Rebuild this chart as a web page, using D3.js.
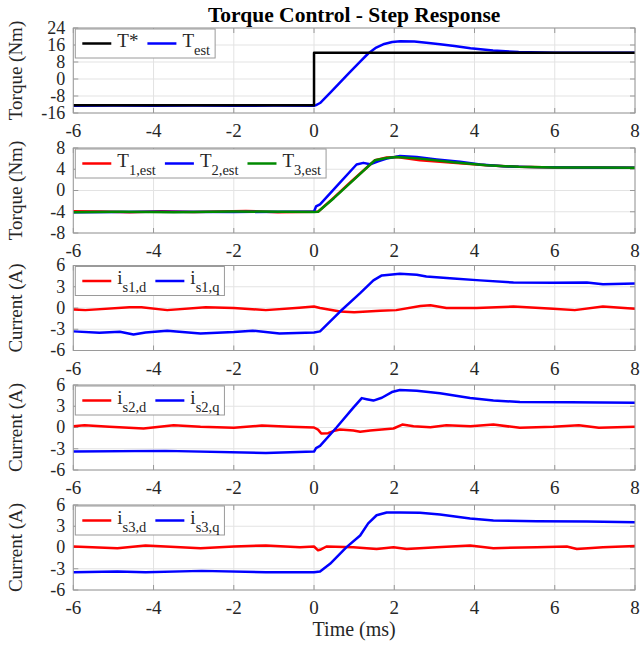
<!DOCTYPE html>
<html>
<head>
<meta charset="utf-8">
<script src="https://cdn.jsdelivr.net/npm/d3@7/dist/d3.min.js"></script>
<style>
  html, body { margin: 0; padding: 0; background: #fff; }
  svg { display: block; font-family: "Liberation Serif", "Times New Roman", serif; }
</style>
</head>
<body>
<svg id="chart" width="640" height="645"></svg>
<script>
// ---- data (time in ms) ----
const xTicks = [-6, -4, -2, 0, 2, 4, 6, 8];

// panel 1 : torque reference and estimate
const tStarTime = [-6, 0, 0, 8];
const tStarVal = [-12.3, -12.3, 12.3, 12.3];
const tEstTime = [-6, -5, -4, -3, -2, -1, 0, 0.05, 0.15, 0.4, 0.65, 0.9, 1.15, 1.35, 1.55, 1.75, 1.95, 2.15, 2.5, 2.8, 3.14, 3.5, 3.9, 4.46, 5.1, 6, 7, 8];
const tEstVal = [-12.6, -12.5, -12.6, -12.5, -12.6, -12.5, -12.6, -12.3, -11.3, -6.5, -1.6, 3.4, 8.2, 12.0, 14.8, 16.5, 17.4, 17.8, 17.6, 17.1, 16.4, 15.5, 14.5, 13.4, 12.7, 12.4, 12.3, 12.3];

// panel 2 : per-module torque estimates
const t1Time = [-6, -5.3, -4.6, -3.8, -3, -1.7, -0.9, 0, 0.1, 0.5, 0.9, 1.4, 1.52, 1.81, 2.06, 2.64, 3.47, 4.3, 5.1, 6, 7, 8];
const t1Val = [-3.9, -3.95, -4.1, -3.9, -4.05, -3.85, -4.1, -4.0, -4.0, -1.3, 1.5, 4.9, 5.7, 6.2, 6.3, 5.7, 5.2, 4.75, 4.45, 4.35, 4.35, 4.3];
const t2Time = [-6, -4, -2, 0, 0.05, 0.15, 0.6, 1.06, 1.23, 1.4, 1.6, 1.81, 2.14, 2.56, 3.06, 3.64, 4.14, 4.72, 5.5, 6.5, 8];
const t2Val = [-4.1, -4.0, -4.05, -3.95, -3.0, -2.6, 1.1, 4.9, 5.2, 4.95, 5.5, 6.0, 6.5, 6.3, 5.85, 5.4, 4.9, 4.55, 4.4, 4.35, 4.3];
const t3Time = [-6, -4.8, -3.5, -2, 0, 0.1, 0.5, 0.9, 1.4, 1.52, 1.81, 2.06, 2.64, 3.47, 4.3, 5.1, 6, 7, 8];
const t3Val = [-4.1, -4.0, -4.1, -3.95, -4.05, -4.0, -1.4, 1.4, 4.9, 5.7, 6.1, 6.3, 6.0, 5.3, 4.75, 4.45, 4.35, 4.35, 4.3];

// panel 3 : module 1 d/q currents
const id1Time = [-6, -5.7, -4.6, -4.3, -3.66, -2.7, -2, -1.2, -0.37, 0, 0.15, 0.65, 1.0, 1.65, 2.05, 2.65, 2.9, 3.3, 4.05, 4.97, 5.96, 6.5, 7.2, 8];
const id1Val = [-0.2, -0.3, 0.1, 0.1, -0.3, 0.1, 0.0, -0.3, 0.05, 0.2, 0.0, -0.5, -0.6, -0.4, -0.3, 0.28, 0.4, 0.0, 0.0, 0.2, -0.1, -0.3, 0.2, -0.1];
const iq1Time = [-6, -5.35, -4.84, -4.5, -4.2, -3.66, -2.83, -2, -1.53, -0.86, 0, 0.15, 0.65, 1.15, 1.48, 1.69, 2.14, 2.56, 2.8, 3.47, 4.14, 4.97, 5.96, 6.8, 7.2, 8];
const iq1Val = [-3.3, -3.5, -3.35, -3.75, -3.45, -3.2, -3.6, -3.4, -3.2, -3.6, -3.45, -3.3, -0.5, 2.1, 3.9, 4.6, 4.85, 4.7, 4.45, 4.15, 3.9, 3.6, 3.55, 3.6, 3.35, 3.45];

// panel 4 : module 2 d/q currents
const id2Time = [-6, -5.72, -5.1, -4.25, -3.5, -2.83, -2, -1.3, -0.6, 0, 0.1, 0.18, 0.35, 0.48, 0.65, 0.98, 1.15, 1.4, 1.98, 2.2, 2.48, 2.9, 3.3, 3.9, 4.47, 5.13, 5.96, 6.6, 7.1, 8];
const id2Val = [0.18, 0.32, 0.1, -0.14, 0.32, 0.1, -0.05, 0.28, 0.1, 0.0, -0.3, -0.85, -0.8, -0.5, -0.28, -0.42, -0.6, -0.42, -0.14, 0.42, 0.18, 0.04, 0.32, 0.18, 0.42, -0.05, 0.1, 0.32, -0.05, 0.1];
const iq2Time = [-6, -3.7, -1.2, 0, 0.05, 0.15, 0.56, 0.98, 1.19, 1.31, 1.48, 1.69, 1.94, 2.14, 2.56, 3.14, 3.89, 4.47, 5.13, 6.38, 8];
const iq2Val = [-3.4, -3.3, -3.6, -3.4, -2.9, -2.6, 0.0, 2.8, 4.15, 4.0, 3.8, 4.2, 5.0, 5.3, 5.2, 4.85, 4.15, 3.8, 3.6, 3.55, 3.5];

// panel 5 : module 3 d/q currents
const id3Time = [-6, -4.9, -4.2, -2.83, -2, -1.2, -0.35, 0, 0.1, 0.15, 0.31, 0.98, 1.56, 1.98, 2.31, 3.06, 3.89, 4.47, 5.55, 6.3, 6.55, 7.2, 8];
const id3Val = [0.14, -0.1, 0.29, -0.1, 0.14, 0.29, 0.05, 0.14, -0.4, -0.33, 0.14, 0.05, -0.2, 0.05, -0.2, 0.05, 0.29, -0.1, 0.05, 0.14, -0.2, 0.05, 0.2];
const iq3Time = [-6, -4.9, -4.2, -2.8, -1.2, 0, 0.15, 0.4, 0.81, 1.15, 1.35, 1.56, 1.81, 2.14, 2.64, 3.14, 3.89, 4.47, 5.55, 6.8, 8];
const iq3Val = [-3.5, -3.4, -3.5, -3.3, -3.5, -3.5, -3.4, -2.3, 0.05, 1.7, 3.4, 4.55, 4.95, 4.95, 4.9, 4.65, 4.1, 3.8, 3.7, 3.68, 3.55];

const torqueTicks = [-16, -8, 0, 8, 16, 24];
const modTorqueTicks = [-8, -4, 0, 4, 8];
const currentTicks = [-6, -3, 0, 3, 6];

// ---- layout ----
const svg = d3.select('#chart');
const left = 73.3, right = 635;
const panelH = 85;
const tops = [28, 148, 265.5, 385, 505];
const RED = '#ff0000', BLUE = '#0000ff', GREEN = '#008a00', BLACK = '#000000';

const zip = (ts, vs) => ts.map((t, i) => [t, vs[i]]);

const panels = [
  { ticks: torqueTicks, label: 'Torque (Nm)', series: [
      { pts: zip(tStarTime, tStarVal), color: BLACK, main: 'T*', sub: '' },
      { pts: zip(tEstTime, tEstVal), color: BLUE, main: 'T', sub: 'est' }],
    drawOrder: [1, 0] },
  { ticks: modTorqueTicks, label: 'Torque (Nm)', series: [
      { pts: zip(t1Time, t1Val), color: RED, main: 'T', sub: '1,est' },
      { pts: zip(t2Time, t2Val), color: BLUE, main: 'T', sub: '2,est' },
      { pts: zip(t3Time, t3Val), color: GREEN, main: 'T', sub: '3,est' }],
    drawOrder: [0, 1, 2] },
  { ticks: currentTicks, label: 'Current (A)', series: [
      { pts: zip(id1Time, id1Val), color: RED, main: 'i', sub: 's1,d' },
      { pts: zip(iq1Time, iq1Val), color: BLUE, main: 'i', sub: 's1,q' }],
    drawOrder: [0, 1] },
  { ticks: currentTicks, label: 'Current (A)', series: [
      { pts: zip(id2Time, id2Val), color: RED, main: 'i', sub: 's2,d' },
      { pts: zip(iq2Time, iq2Val), color: BLUE, main: 'i', sub: 's2,q' }],
    drawOrder: [0, 1] },
  { ticks: currentTicks, label: 'Current (A)', series: [
      { pts: zip(id3Time, id3Val), color: RED, main: 'i', sub: 's3,d' },
      { pts: zip(iq3Time, iq3Val), color: BLUE, main: 'i', sub: 's3,q' }],
    drawOrder: [0, 1] }
];

const x = d3.scaleLinear().domain([-6, 8]).range([left, right]);

// title
svg.append('text')
  .attr('x', (left + right) / 2).attr('y', 22)
  .attr('text-anchor', 'middle')
  .style('font-size', '21.5px').style('font-weight', 'bold').attr('fill', '#000')
  .text('Torque Control - Step Response');

panels.forEach((p, k) => {
  const top = tops[k], bottom = top + panelH;
  const y = d3.scaleLinear().domain(d3.extent(p.ticks)).range([bottom, top]);
  const g = svg.append('g');

  // grid
  g.selectAll('.gx').data(xTicks).enter().append('line')
    .attr('x1', d => x(d)).attr('x2', d => x(d)).attr('y1', top).attr('y2', bottom)
    .attr('stroke', '#e3e3e3').attr('stroke-width', 1);
  g.selectAll('.gy').data(p.ticks).enter().append('line')
    .attr('x1', left).attr('x2', right).attr('y1', d => y(d)).attr('y2', d => y(d))
    .attr('stroke', '#e3e3e3').attr('stroke-width', 1);

  // inward ticks
  const tl = 5;
  g.selectAll('.tx').data(xTicks).enter().append('path')
    .attr('d', d => `M${x(d)},${bottom}v${-tl}M${x(d)},${top}v${tl}`)
    .attr('stroke', '#999').attr('stroke-width', 1);
  g.selectAll('.ty').data(p.ticks).enter().append('path')
    .attr('d', d => `M${left},${y(d)}h${tl}M${right},${y(d)}h${-tl}`)
    .attr('stroke', '#999').attr('stroke-width', 1);

  // lines
  const line = d3.line().x(d => x(d[0])).y(d => y(d[1]));
  p.drawOrder.forEach(i => {
    const s = p.series[i];
    g.append('path').datum(s.pts)
      .attr('d', line)
      .attr('fill', 'none').attr('stroke', s.color)
      .attr('stroke-width', 2.5).attr('stroke-linejoin', 'round');
  });

  // box
  g.append('rect')
    .attr('x', left).attr('y', top).attr('width', right - left).attr('height', panelH)
    .attr('fill', 'none').attr('stroke', '#9a9a9a').attr('stroke-width', 1);

  // tick labels
  g.selectAll('.lx').data(xTicks).enter().append('text')
    .attr('x', d => x(d)).attr('y', bottom + 24)
    .attr('text-anchor', 'middle').style('font-size', '19px').attr('fill', '#262626')
    .text(d => d);
  g.selectAll('.ly').data(p.ticks).enter().append('text')
    .attr('x', left - 8).attr('y', d => y(d)).attr('dy', '0.33em')
    .attr('text-anchor', 'end').style('font-size', '18px').attr('fill', '#262626')
    .text(d => d);

  // y axis title
  g.append('text')
    .attr('transform', `translate(22,${(top + bottom) / 2}) rotate(-90)`)
    .attr('text-anchor', 'middle').style('font-size', '19px').attr('fill', '#262626')
    .text(p.label);

  // legend
  const lg = svg.append('g');
  const bx = left + 2, by = top + 1, bh = 29;
  const box = lg.append('rect')
    .attr('x', bx).attr('y', by).attr('height', bh)
    .attr('fill', '#fff').attr('stroke', '#9a9a9a').attr('stroke-width', 1);
  let cx = bx + 7;
  const cy = by + bh / 2;
  p.series.forEach((s, i) => {
    lg.append('line')
      .attr('x1', cx).attr('x2', cx + 29).attr('y1', cy).attr('y2', cy)
      .attr('stroke', s.color).attr('stroke-width', 2.5);
    cx += 35;
    const t = lg.append('text').attr('x', cx).attr('y', cy + 3)
      .style('font-size', '19px').attr('fill', '#262626');
    t.append('tspan').text(s.main);
    if (s.sub) {
      t.append('tspan').attr('dy', 8).style('font-size', '14.5px').text(s.sub);
    }
    cx += t.node().getComputedTextLength() + 9;
  });
  box.attr('width', cx - bx - 4);
});

// x axis title
svg.append('text')
  .attr('x', (left + right) / 2).attr('y', 636)
  .attr('text-anchor', 'middle').style('font-size', '20px').attr('fill', '#262626')
  .text('Time (ms)');
</script>
</body>
</html>
